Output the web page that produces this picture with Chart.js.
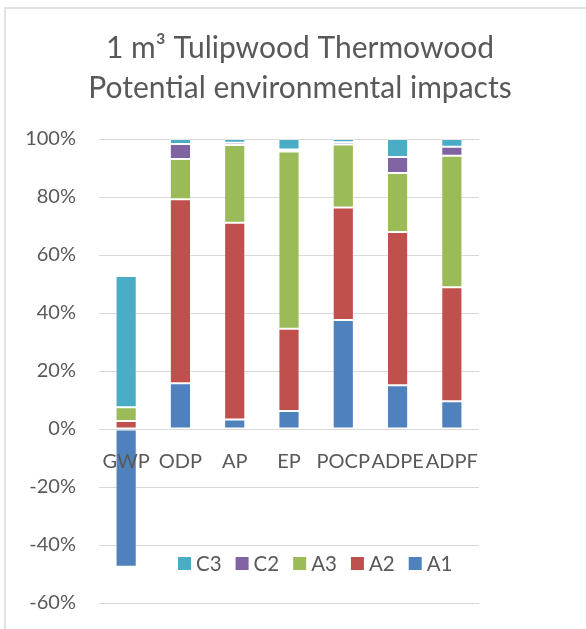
<!DOCTYPE html>
<html>
<head>
<meta charset="utf-8">
<script src="https://cdn.jsdelivr.net/npm/chart.js@4/dist/chart.umd.min.js"></script>
<style>
  html, body { margin: 0; padding: 0; background: #ffffff; overflow: hidden; width: 586px; height: 629px; }
  #frame { position: absolute; left: 4px; top: 7px; width: 700px; height: 700px; border: 2px solid #e2e2e2; box-sizing: border-box; }
  #c { position: absolute; left: 0; top: 0; }
</style>
</head>
<body>
<div id="frame"></div>
<canvas id="c" width="600" height="629"></canvas>
<script>
// ---- data ----
const categories = ['GWP', 'ODP', 'AP', 'EP', 'POCP', 'ADPE', 'ADPF'];
const A1 = [-47.5, 15.8, 3.3, 6.2, 37.6, 15.1, 9.6];
const A2 = [2.8, 63.4, 67.8, 28.4, 38.8, 52.8, 39.3];
const A3 = [4.7, 13.9, 26.8, 61.1, 21.7, 20.4, 45.3];
const C2 = [0, 5.2, 0.8, 0.7, 0.8, 5.5, 3.1];
const C3 = [45.3, 1.7, 1.3, 3.6, 1.1, 6.2, 2.7];
const seriesNames = ['A1', 'A2', 'A3', 'C2', 'C3'];
const yTicks = [-60, -40, -20, 0, 20, 40, 60, 80, 100];
const titleLines = ['1 m\u00B3 Tulipwood Thermowood', 'Potential environmental impacts'];

const colors = ['#4F81BD', '#C0504D', '#9BBB59', '#8064A2', '#4BACC6'];
const seriesData = [A1, A2, A3, C2, C3];
const FONT = 'Lato, "Open Sans", sans-serif';
const TEXT = '#595959';

const datasets = seriesNames.map((n, i) => ({
  label: n,
  data: seriesData[i],
  backgroundColor: colors[i],
  borderColor: 'rgba(255,255,255,0.35)',
  borderWidth: 1,
  borderSkipped: false,
  stack: 's',
  categoryPercentage: 1,
  barPercentage: 0.39
}));

const legendPlugin = {
  id: 'insideLegend',
  afterDraw(chart, args, opts) {
    const ctx = chart.ctx;
    ctx.save();
    ctx.font = opts.fontSize + 'px ' + FONT;
    ctx.textBaseline = 'middle';
    ctx.textAlign = 'left';
    let x = opts.x;
    const y = opts.y;
    const items = chart.data.datasets.map((d) => ({label: d.label, color: d.backgroundColor})).reverse();
    items.forEach(it => {
      ctx.fillStyle = it.color;
      ctx.fillRect(x, Math.round(y - opts.box / 2), opts.box, opts.box);
      x += opts.box + opts.gap;
      ctx.fillStyle = TEXT;
      ctx.fillText(it.label, x, y + 1);
      x += ctx.measureText(it.label).width + opts.spacing;
    });
    ctx.restore();
  }
};

new Chart(document.getElementById('c'), {
  type: 'bar',
  data: { labels: categories, datasets },
  plugins: [legendPlugin],
  options: {
    responsive: false,
    animation: false,
    layout: { padding: { left: 0, right: 0, top: 0, bottom: 26 } },
    plugins: {
      legend: { display: false },
      tooltip: { enabled: false },
      title: {
        display: true,
        text: titleLines,
        color: TEXT,
        font: { family: FONT, size: 30, weight: 'normal', lineHeight: '40px' },
        padding: { top: 28, bottom: 31 }
      },
      insideLegend: { x: 178, y: 563, box: 13, gap: 5, spacing: 14, fontSize: 20.5 }
    },
    scales: {
      x: {
        stacked: true,
        position: { y: 0 },
        grid: { display: false, drawTicks: false },
        border: { display: false },
        ticks: { z: 1, color: TEXT, font: { family: FONT, size: 20 }, padding: 21, autoSkip: false, maxRotation: 0, minRotation: 0 },
        afterFit(scale) { scale.height = 0; }
      },
      y: {
        stacked: true,
        min: -60,
        max: 100,
        afterBuildTicks(scale) { scale.ticks = yTicks.map(v => ({ value: v })); },
        grid: { color: '#d9d9d9', lineWidth: 1, drawTicks: false },
        border: { display: false },
        ticks: { color: TEXT, font: { family: FONT, size: 20 }, padding: 23, callback: v => v + '%' },
        afterFit(scale) { scale.width = 99; scale.paddingTop = 0; scale.paddingBottom = 0; }
      },
      ySpace: {
        type: 'linear',
        position: 'right',
        min: -60,
        max: 100,
        grid: { display: false, drawTicks: false },
        border: { display: false },
        ticks: { display: false },
        afterFit(scale) { scale.width = 121; scale.paddingTop = 0; scale.paddingBottom = 0; }
      }
    }
  }
});
</script>
</body>
</html>
